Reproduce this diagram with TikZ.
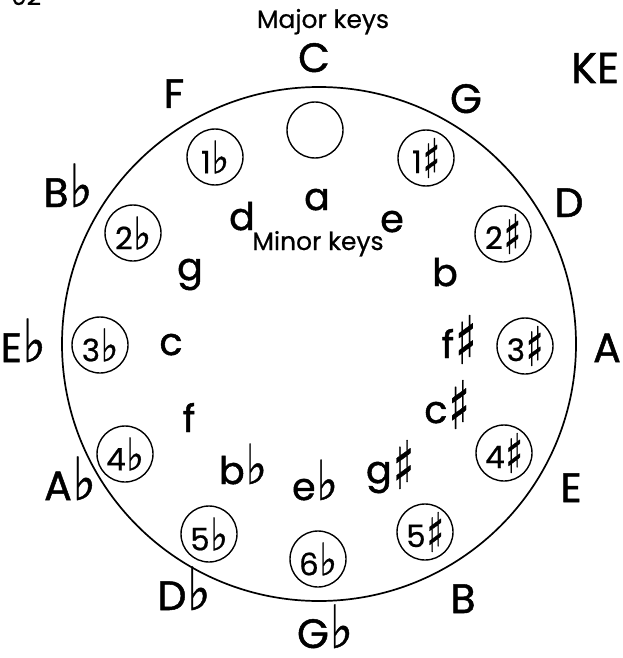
\documentclass[tikz,border=0pt]{standalone}
\usepackage{fontspec}
\setmainfont{Poppins}
\newfontfamily\popheavy{Poppins}[FakeBold=1.2]
\newfontfamily\popmid{Poppins}[FakeBold=0.6]
\newfontfamily\dvsym{DejaVu Sans}[FakeBold=0.8]
\newcommand\fl{\kern0.02em\scalebox{1.2}[1.45]{\dvsym ♭}}
\newcommand\sh{\kern0.03em\raisebox{-0.28ex}{\scalebox{1.15}[1.75]{\dvsym ♯}}}
\begin{document}
\begin{tikzpicture}[x=1pt,y=-1pt,
  maj/.style={font=\fontsize{41}{41}\popheavy, anchor=base, inner sep=0pt},
  mnr/.style={font=\fontsize{38}{38}\popheavy, anchor=base, inner sep=0pt},
  ttl/.style={font=\fontsize{25}{25}\popmid, anchor=base, inner sep=0pt},
  sig/.style={circle, draw, line width=1.4pt, minimum size=56pt, inner sep=0pt, font=\fontsize{31}{31}\popmid},
]
\useasboundingbox (0,0) rectangle (623,658);
\clip (0,0) rectangle (623,658);
\fill[white] (0,0) rectangle (623,658);
\node[circle, draw, line width=1.7pt, minimum size=514pt, inner sep=0pt] (wheel) at (319,344) {};
% page number and heading fragment
\node[ttl] (pg) at (26,5) {92};
\node[font=\fontsize{43}{43}\popheavy, anchor=base west, inner sep=0pt] (ke) at (571,83) {KE};
\node[ttl] (majt) at (323,28) {Major keys};
\node[ttl] (mint) at (318,250) {Minor keys};
% major keys
\node[maj] (kC) at (314,72) {C};
\node[maj] (kG) at (466,113) {G};
\node[maj] (kD) at (569,217) {D};
\node[maj] (kA) at (607,362) {A};
\node[maj] (kE) at (571,502) {E};
\node[maj] (kB) at (463,613) {B};
\node[maj] (kGb) at (325,648) {G\fl};
\node[maj] (kDb) at (184,610) {D\fl};
\node[maj] (kAb) at (70,500) {A\fl};
\node[maj, anchor=base east] (kEb) at (46,362) {E\fl};
\node[maj] (kBb) at (68,207) {B\fl};
\node[maj] (kF) at (174,108) {F};
% signatures
\node[sig] (s0) at (315,130) {};
\node[sig] (s1) at (426,158) {1\sh};
\node[sig] (s2) at (503,234) {2\sh};
\node[sig] (s3) at (525,346) {3\sh};
\node[sig] (s4) at (504,453) {4\sh};
\node[sig] (s5) at (425,532) {5\sh};
\node[sig] (s6) at (318,559) {6\fl};
\node[sig] (f5) at (209,534) {5\fl};
\node[sig] (f4) at (125,454) {4\fl};
\node[sig] (f3) at (100,345) {3\fl};
\node[sig] (f2) at (133,233) {2\fl};
\node[sig] (f1) at (215,157) {1\fl};
% minor keys
\node[mnr] (ma) at (317,210) {a};
\node[mnr] (me) at (392,232) {e};
\node[mnr] (mb) at (445,286) {b};
\node[mnr] (mfs) at (459,358) {f\sh};
\node[mnr] (mcs) at (447,423) {c\sh};
\node[mnr] (mgs) at (390,483) {g\sh};
\node[mnr] (meb) at (315,500) {e\fl};
\node[mnr] (mbb) at (243,484) {b\fl};
\node[mnr] (mf) at (189,432) {f};
\node[mnr] (mc) at (171,355) {c};
\node[mnr] (mg) at (190,280) {g};
\node[mnr] (md) at (242,230) {d};
\end{tikzpicture}
\end{document}
